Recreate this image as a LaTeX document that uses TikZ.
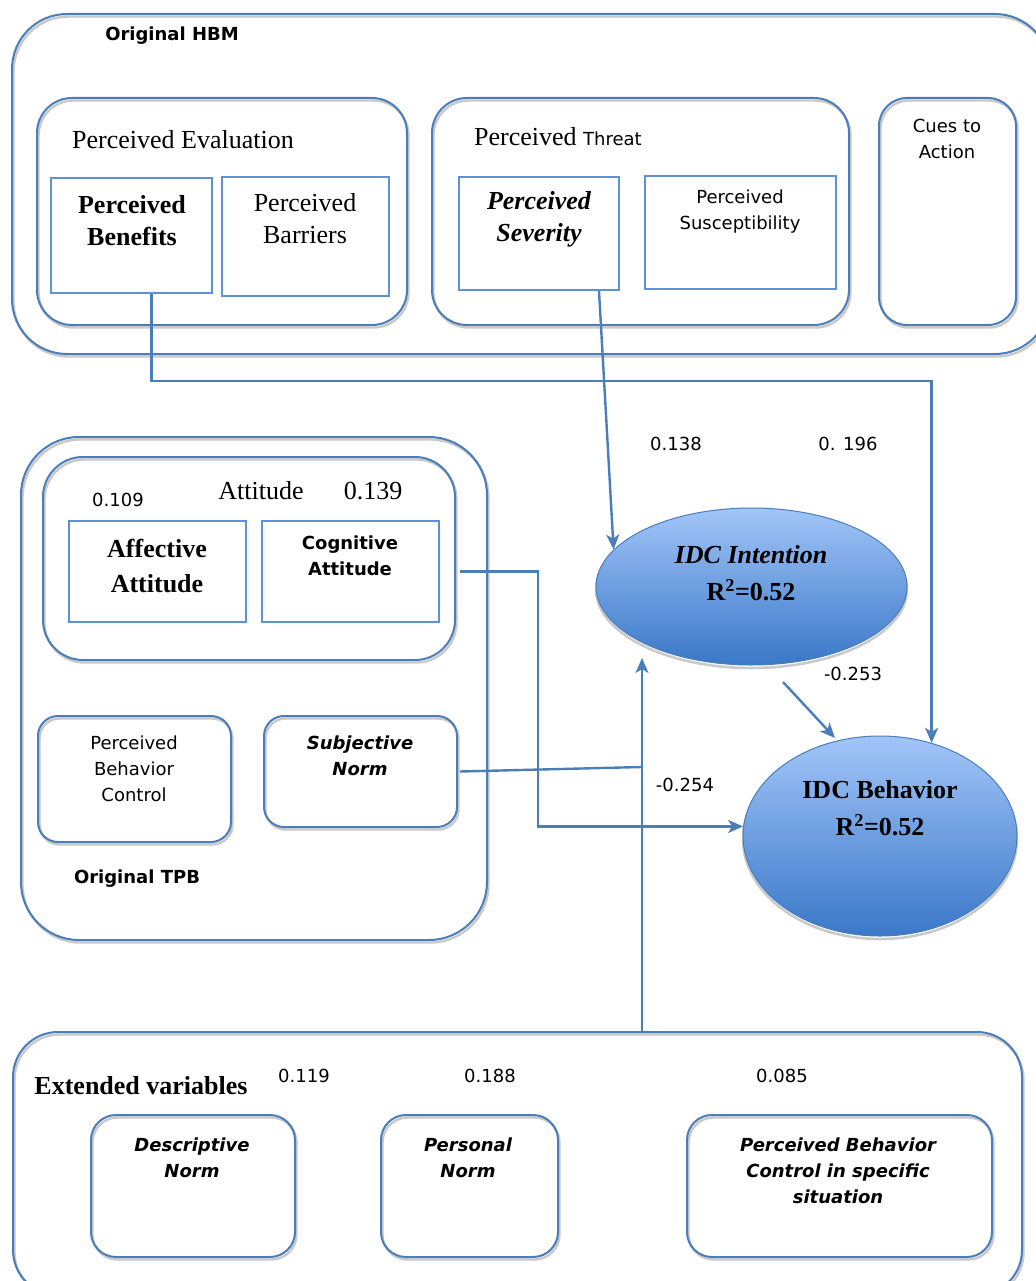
\documentclass[tikz,border=0pt]{standalone}
\usepackage{fontspec}
\setmainfont{Liberation Serif}
\setsansfont{DejaVu Sans}
\usetikzlibrary{arrows.meta,shapes.geometric,fit}
\definecolor{bblue}{HTML}{4A7EBB}
\definecolor{rblue}{HTML}{5E91D6}
\definecolor{sgray}{HTML}{C9C9C9}
\definecolor{etop}{HTML}{A2C5F8}
\definecolor{ebot}{HTML}{3A78C8}
\begin{document}
\begin{tikzpicture}[x=1pt,y=-1pt,
  rbox/.style={draw=bblue, line width=2pt, rounded corners=#1, inner sep=0pt,
    preaction={draw=sgray, line width=2.4pt, transform canvas={xshift=1.5pt,yshift=-2.5pt}}},
  sqbox/.style={draw=rblue, line width=2pt, inner sep=0pt},
  ell/.style={ellipse, draw=bblue, line width=1pt, top color=etop, bottom color=ebot, inner sep=0pt,
    preaction={draw=sgray, line width=2.5pt, transform canvas={yshift=-3pt}}},
  sr/.style={font=\rmfamily\fontsize{26}{32}\selectfont, align=center, inner sep=0pt},
  srb/.style={font=\rmfamily\bfseries\fontsize{26}{32}\selectfont, align=center, inner sep=0pt},
  srbi/.style={font=\rmfamily\bfseries\itshape\fontsize{26}{32}\selectfont, align=center, inner sep=0pt},
  ss/.style={font=\sffamily\fontsize{18}{26}\selectfont, align=center, inner sep=0pt},
  ssb/.style={font=\sffamily\bfseries\fontsize{18}{26}\selectfont, align=center, inner sep=0pt},
  ssbi/.style={font=\sffamily\bfseries\itshape\fontsize{18}{26}\selectfont, align=center, inner sep=0pt},
  link/.style={draw=bblue, line width=2.4pt},
  conn/.style={link, -{Stealth[length=15pt,width=13pt,inset=4pt]}}
]
\useasboundingbox (0,0) rectangle (1035,1281);
\fill[white] (0,0) rectangle (1035,1281);

% ---------------- HBM ----------------
\node[fit={(12,14) (1050,354)}, rbox=55] (hbm) {};
\node[ssb] (thbm) at (172,36) {Original HBM};
\node[fit={(37,98) (407,325)}, rbox=35] (pe) {};
\node[sr, anchor=west] (tpe) at (72,140) {Perceived Evaluation};
\node[fit={(51,178) (212,293)}, sqbox] (pben) {};
\node[srb] (tpben) at (132,221) {Perceived\\Benefits};
\node[fit={(222,177) (389,296)}, sqbox] (pbar) {};
\node[sr] (tpbar) at (305,219) {Perceived\\Barriers};

\node[fit={(432,98) (849,325)}, rbox=35] (pt) {};
\node[sr, anchor=west] (tpt) at (474,137) {Perceived {\sffamily\fontsize{18}{22}\selectfont Threat}};
\node[fit={(459,177) (619,290)}, sqbox] (psev) {};
\node[srbi] (tpsev) at (539,219) {Perceived\\Severity};
\node[fit={(645,176) (836,289)}, sqbox] (psus) {};
\node[ss] (tpsus) at (740,211.5) {Perceived\\Susceptibility};

\node[fit={(879,98) (1016,325)}, rbox=28] (cues) {};
\node[ss] (tcues) at (947,139) {Cues to\\Action};

% ---------------- Outcomes ----------------
\node[ell, minimum width=311, minimum height=157] (int) at (751.5,586.5) {};
\node[srbi] (tint) at (751,555) {IDC Intention};
\node[srb] (rint) at (751,590) {R\textsuperscript{2}=0.52};
\node[ell, minimum width=274, minimum height=200] (beh) at (880,836) {};
\node[srb] (tbeh) at (880,790) {IDC Behavior};
\node[srb] (rbeh) at (880,825) {R\textsuperscript{2}=0.52};

\node[ss] (l138) at (676,444) {0.138};
\node[ss] (l196) at (848,444) {0. 196};
\node[ss] (l253) at (853,674) {-0.253};
\node[ss] (l254) at (685,785) {-0.254};

% ---------------- TPB ----------------
\node[fit={(21,437) (487,940)}, rbox=58] (tpb) {};
\node[fit={(43,457) (455,660)}, rbox=40] (att) {};
\node[ss] (l109) at (118,500) {0.109};
\node[sr] (tatt) at (261,491) {Attitude};
\node[sr] (l139) at (373,491) {0.139};
\node[fit={(69,521) (246,622)}, sqbox] (aff) {};
\node[srb, font=\rmfamily\bfseries\fontsize{26}{35}\selectfont] (taff) at (157,565.5) {Affective\\Attitude};
\node[fit={(262,521) (439,622)}, sqbox] (cog) {};
\node[ssb] (tcog) at (350,556) {Cognitive\\Attitude};
\node[fit={(38,716) (231,842)}, rbox=20] (pbc) {};
\node[ss] (tpbc) at (134,769) {Perceived\\Behavior\\Control};
\node[fit={(264,716) (457,827)}, rbox=20] (sn) {};
\node[ssbi] (tsn) at (360,755.5) {Subjective\\Norm};
\node[ssb] (ttpb) at (137,879) {Original TPB};

% ---------------- Extended ----------------
\node[fit={(13,1032) (1022,1295)}, rbox=45] (ext) {};
\node[srb] (text) at (141,1086) {Extended variables};
\node[ss] (l119) at (304,1076) {0.119};
\node[ss] (l188) at (490,1076) {0.188};
\node[ss] (l085) at (782,1076) {0.085};
\node[fit={(91,1115) (295,1257)}, rbox=25] (dn) {};
\node[ssbi] (tdn) at (192,1158) {Descriptive\\Norm};
\node[fit={(381,1115) (558,1257)}, rbox=25] (pn) {};
\node[ssbi] (tpn) at (468,1158) {Personal\\Norm};
\node[fit={(687,1115) (992,1257)}, rbox=25] (pbcs) {};
\node[ssbi] (tpbcs) at (838,1171) {Perceived Behavior\\Control in specific\\situation};

% ---------------- Connectors ----------------
\coordinate (hline) at (0,381);
\coordinate (sj) at (642,767);
\coordinate (intin) at (642,658);
\coordinate (ib1) at (783,682);
\coordinate (ib2) at (835,738);

\draw[conn] ([xshift=20pt]pben.south) |- (beh.61 |- hline) -- (beh.61);
\draw[conn] ([xshift=-21pt]psev.south east) -- (int.165);
\draw[conn] ([xshift=20pt]cog.east) -- ++(78,0) |- (beh.176);
\draw[link] ([xshift=2pt]sn.east) -- (sj);
\draw[conn] (sj |- ext.north) -- (intin);
\draw[conn] (ib1) -- (ib2);
\end{tikzpicture}
\end{document}
